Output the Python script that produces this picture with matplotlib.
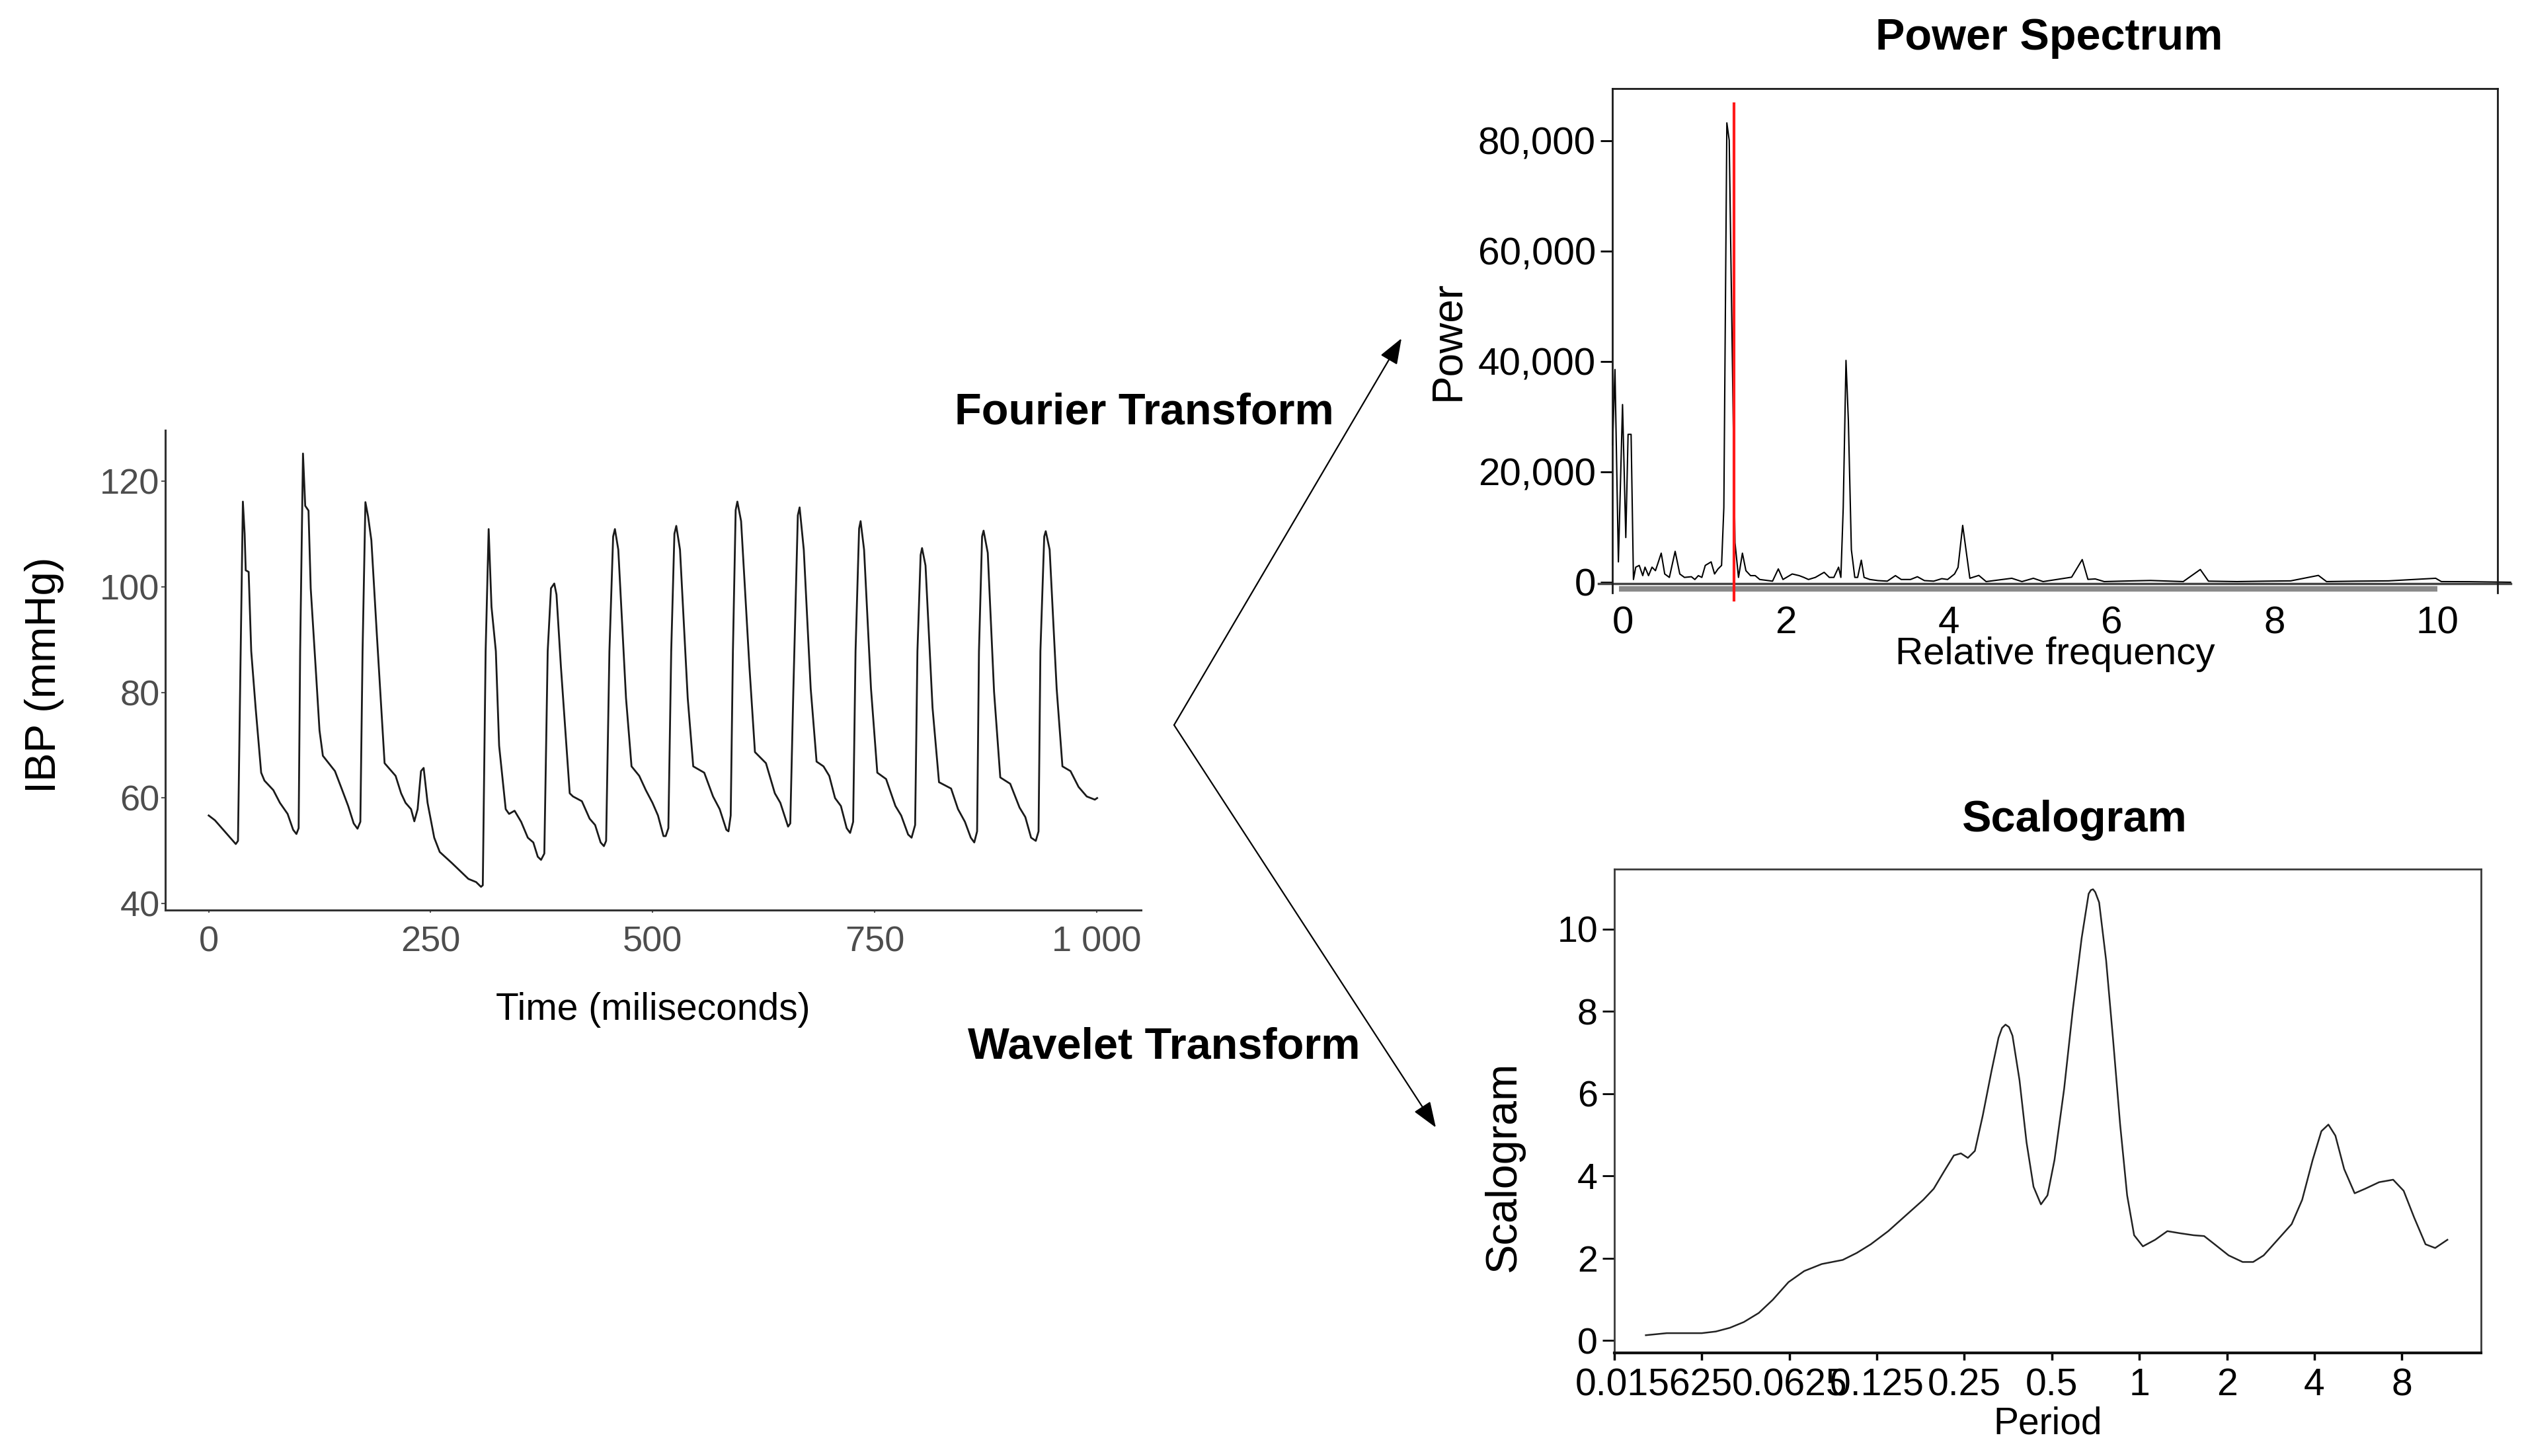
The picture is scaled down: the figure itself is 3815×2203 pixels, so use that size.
import matplotlib
matplotlib.use('Agg')
import matplotlib.pyplot as plt
from matplotlib.patches import FancyArrowPatch
from matplotlib.transforms import ScaledTranslation
from matplotlib.ticker import NullLocator

plt.rcParams['font.family'] = ['Liberation Sans', 'DejaVu Sans']

# ---------------- data ----------------
time_ms = [0, 7, 30.5, 33, 35.5, 38.5, 40.5, 41.7, 45.0, 47.9, 52.9, 59.1, 62.8, 72.8, 80.2, 88.9, 95.1, 98.8,
           101.3, 103.0, 106.2, 108.7, 112.4, 114.9, 121.1, 124.8, 128.6, 142.2, 149.7, 157.1, 163.3, 167.6,
           170.8, 173.3, 176.5, 179.5, 183.2, 189.4, 198.1, 210.5, 216.7, 221.7, 227.9, 231.6, 235.3, 239.1,
           242.1, 246.5, 254.0, 260.2, 273.9, 292.5, 301.2, 306.7, 308.7, 311.9, 315.3, 318.5, 323.4, 327.1,
           334.5, 338.3, 344.5, 351.9, 359.4, 365.6, 370.6, 374.3, 378.0, 381.8, 385.5, 389.2, 391.7, 396.7,
           406.6, 410.3, 420.3, 429.0, 435.2, 441.4, 445.1, 447.6, 451.3, 455.5, 457.5, 461.3, 470.0, 476.2,
           484.9, 492.3, 499.8, 506.0, 512.2, 514.7, 517.7, 520.9, 524.5, 526.6, 530.8, 539.5, 545.7, 558.1,
           568.0, 575.5, 583.0, 585.4, 587.9, 590.4, 593.5, 595.4, 599.6, 609.0, 615.2, 627.6, 637.6, 643.8,
           652.5, 655.0, 658.4, 663.5, 665.5, 670.2, 678.0, 684.6, 692.4, 698.9, 705.4, 712.0, 718.5, 722.4,
           725.8, 728.5, 732.5, 734.2, 738.1, 745.9, 753.0, 762.9, 773.4, 779.9, 787.7, 791.6, 795.6, 798.2,
           801.8, 803.4, 807.3, 815.2, 822.5, 836.1, 843.9, 851.7, 858.3, 862.2, 865.4, 867.5, 871.0, 872.7,
           877.4, 884.5, 891.5, 902.7, 913.2, 919.7, 926.2, 931.5, 934.6, 936.7, 941.0, 942.7, 947.1, 955.0,
           961.5, 970.6, 979.7, 988.9, 998.0, 1000.6]
ibp = [56.7, 55.8, 51.3, 51.9, 81.8, 116.1, 110.0, 103.1, 102.8, 87.8, 77.0, 64.8, 63.3, 61.5, 59.1, 57.0, 54.0, 53.2,
       54.3, 87.8, 125.2, 115.3, 114.4, 99.7, 83.0, 72.8, 68.0, 65.1, 61.8, 58.5, 55.2, 54.2,
       55.5, 87.8, 116.0, 113.3, 108.8, 90.9, 66.6, 64.2, 60.9, 59.1, 57.9, 55.6, 57.9, 65.1,
       65.7, 59.1, 52.5, 49.8, 47.7, 44.7, 44.1, 43.2, 43.5, 87.8, 110.9, 96.2, 87.8, 69.9,
       57.9, 57.0, 57.6, 55.5, 52.5, 51.6, 48.9, 48.3, 49.5, 87.8, 99.7, 100.6, 98.5, 84.8,
       60.9, 60.3, 59.4, 56.1, 54.9, 51.6, 50.9, 51.9, 87.8, 109.5, 110.9, 107.0, 78.9, 66.0,
       64.2, 61.5, 59.1, 56.7, 52.8, 52.8, 54.3, 87.8, 110.0, 111.5, 107.0, 78.9, 66.0, 64.8,
       60.3, 57.9, 54.0, 53.7, 56.7, 87.8, 114.5, 116.1, 112.4, 84.8, 68.7, 66.6, 60.9, 59.1,
       54.6, 55.2, 80.0, 113.5, 115.0, 107.0, 80.7, 66.9, 66.0, 64.2, 60.0, 58.5, 54.3, 53.4,
       55.5, 87.8, 111.0, 112.4, 107.0, 80.7, 64.8, 63.6, 58.5, 56.7, 53.1, 52.5, 54.9, 87.8,
       106.0, 107.3, 104.0, 77.1, 63.0, 61.8, 57.9, 55.5, 52.5, 51.6, 53.7, 87.8, 109.5, 110.6,
       106.4, 80.1, 63.9, 62.7, 58.2, 56.4, 52.5, 51.9, 53.7, 87.8, 109.5, 110.5, 107.0, 80.7,
       66.0, 65.1, 62.1, 60.3, 59.7, 60.0]
ibp_xticks = [0, 250, 500, 750, 1000]
ibp_xticklabels = ['0', '250', '500', '750', '1 000']
ibp_yticks = [40, 60, 80, 100, 120]

freq = [-0.127, -0.098, -0.056, -0.005, 0.035, 0.063, 0.100, 0.129, 0.157, 0.200, 0.243, 0.271, 0.314, 0.357,
        0.399, 0.428, 0.470, 0.513, 0.570, 0.641, 0.698, 0.755, 0.840, 0.883, 0.926, 0.969, 1.011, 1.083,
        1.125, 1.168, 1.211, 1.239, 1.276, 1.305, 1.339, 1.376, 1.419, 1.467, 1.510, 1.567, 1.624, 1.680,
        1.837, 1.908, 1.965, 2.079, 2.164, 2.221, 2.278, 2.363, 2.471, 2.534, 2.590, 2.648, 2.676, 2.705,
        2.739, 2.768, 2.805, 2.847, 2.882, 2.927, 2.961, 3.032, 3.132, 3.246, 3.346, 3.417, 3.531, 3.616,
        3.702, 3.816, 3.916, 3.987, 4.072, 4.115, 4.172, 4.260, 4.370, 4.460, 4.775, 4.900, 5.040, 5.160,
        5.510, 5.640, 5.710, 5.800, 5.910, 6.220, 6.480, 6.880, 7.090, 7.190, 7.540, 7.900, 8.200, 8.540,
        8.640, 9.000, 9.400, 9.980, 10.050, 10.400, 10.900]
power = [24900, 38550, 3690, 32200, 8100, 26800, 26800, 500, 2730, 3050, 1200, 2730, 1200, 2730,
         2100, 3370, 5270, 1500, 880, 5600, 1500, 880, 1000, 500, 1200, 880, 3050, 3690,
         1500, 2420, 3050, 13510, 83240, 80080, 45200, 7170, 880, 5270, 2100, 1200, 1200, 500,
         200, 2420, 500, 1500, 1200, 880, 500, 880, 1800, 880, 880, 2730, 880, 13510,
         40200, 29350, 5910, 880, 880, 4000, 880, 500, 300, 200, 1200, 500, 500, 1000,
         300, 200, 650, 500, 1500, 2700, 10300, 720, 1240, 120, 720, 120, 720, 120,
         920, 4110, 520, 600, 120, 240, 320, 120, 2310, 200, 120, 200, 250, 1240,
         120, 200, 250, 720, 120, 100, 0]
peak_freq = 1.36
power_yticks = [0, 20000, 40000, 60000, 80000]
power_yticklabels = ['0', '20,000', '40,000', '60,000', '80,000']
power_xticks = [0, 2, 4, 6, 8, 10]
power_xticklabels = ['0', '2', '4', '6', '8', '10']

period = [0.02005, 0.02368, 0.03125, 0.03492, 0.03901, 0.04358, 0.04904, 0.05479, 0.06207, 0.07032,
          0.08078, 0.09539, 0.1066, 0.1191, 0.1368, 0.1571, 0.1805, 0.1961, 0.2132, 0.2300, 0.2432,
          0.2570, 0.2717, 0.2892, 0.3099, 0.3276, 0.3370, 0.3463, 0.3560, 0.3660, 0.3869, 0.4090,
          0.4323, 0.4585, 0.4829, 0.5105, 0.5510, 0.5905, 0.6329, 0.6690, 0.6810, 0.6926, 0.7050,
          0.7270, 0.7684, 0.8123, 0.8586, 0.9075, 0.9593, 1.0281, 1.1329, 1.2483, 1.3755, 1.5369,
          1.6702, 1.8150, 2.0279, 2.2658, 2.4623, 2.6759, 2.9897, 3.3404, 3.6301, 3.9449, 4.2281,
          4.4691, 4.7240, 5.0630, 5.5022, 5.9794, 6.6807, 7.4643, 8.1117, 8.8152, 9.6465, 10.411,
          11.472]
scalogram = [0.13, 0.18, 0.18, 0.22, 0.31, 0.45, 0.67, 0.99, 1.42, 1.69,
             1.86, 1.96, 2.13, 2.34, 2.66, 3.04, 3.42, 3.69, 4.12, 4.50, 4.55,
             4.44, 4.61, 5.47, 6.55, 7.36, 7.60, 7.68, 7.62, 7.41, 6.33, 4.82,
             3.74, 3.31, 3.53, 4.39, 6.12, 8.06, 9.78, 10.86, 10.95, 10.97, 10.90,
             10.65, 9.24, 7.30, 5.25, 3.53, 2.56, 2.29, 2.45, 2.66, 2.61, 2.56,
             2.54, 2.34, 2.07, 1.91, 1.91, 2.07, 2.45, 2.83, 3.42, 4.39, 5.09,
             5.25, 4.98, 4.17, 3.58, 3.69, 3.85, 3.91, 3.64, 2.99, 2.34, 2.25,
             2.45]
scal_xticks = [0.015625, 0.03125, 0.0625, 0.125, 0.25, 0.5, 1, 2, 4, 8]
scal_xticklabels = ['0.015625', '', '0.0625', '0.125', '0.25', '0.5', '1', '2', '4', '8']
scal_yticks = [0, 2, 4, 6, 8, 10]

# ---------------- figure ----------------
W, H, DPI = 3815, 2203, 100
fig = plt.figure(figsize=(W / DPI, H / DPI), dpi=DPI)


def rect(l, t, r, b):
    return [l / W, 1 - b / H, (r - l) / W, (b - t) / H]


def fpt(x, y):
    return (x / W, 1 - y / H)


# ---- left: IBP waveform ----
ax1 = fig.add_axes(rect(250, 651, 1726, 1377))
ax1.plot(time_ms, ibp, color='#1a1a1a', lw=2.0)
ax1.set_xlim(-48.9, 1050)
ax1.set_ylim(38.8, 129.6)
for s in ['top', 'right']:
    ax1.spines[s].set_visible(False)
for s in ['left', 'bottom']:
    ax1.spines[s].set_color('#333333')
    ax1.spines[s].set_linewidth(2.2)
ax1.set_xticks(ibp_xticks)
ax1.set_xticklabels(ibp_xticklabels)
ax1.set_yticks(ibp_yticks)
ax1.tick_params(axis='both', labelsize=39, labelcolor='#4d4d4d', color='#555555', width=1.5)
ax1.tick_params(axis='y', length=4, pad=2)
ax1.tick_params(axis='x', length=3, pad=14)
ax1.set_xlabel('Time (miliseconds)', fontsize=41)
ax1.xaxis.label.set_va('center')
ax1.xaxis.set_label_coords(0.5, -0.208)
ax1.set_ylabel('IBP (mmHg)', fontsize=47)
ax1.yaxis.label.set_va('center')
ax1.yaxis.set_label_coords(-0.124, 0.49)

# ---- top right: power spectrum ----
ax2 = fig.add_axes(rect(2439, 134, 3778, 897))
ax2.plot(freq, power, color='black', lw=1.5, clip_on=False)
ax2.set_xlim(-0.13, 10.74)
ax2.set_ylim(-1920, 89460)
ax2.spines['bottom'].set_visible(False)
for s in ['top', 'left', 'right']:
    ax2.spines[s].set_color('#1a1a1a')
    ax2.spines[s].set_linewidth(2.0)
ax2.plot([-0.3, 10.9], [-250, -250], color='#444444', lw=2.5, clip_on=False)
ax2.plot([-0.05, 10.0], [-1150, -1150], color='#8a8a8a', lw=6, solid_capstyle='butt', clip_on=False)
ax2.plot([peak_freq, peak_freq], [-3230, 86730], color='#ff1a1a', lw=3, clip_on=False)
ax2.set_yticks(power_yticks)
ax2.set_yticklabels(power_yticklabels)
ax2.set_xticks(power_xticks)
ax2.set_xticklabels(power_xticklabels)
ax2.tick_params(axis='y', labelsize=42, length=13, width=2, pad=5)
ax2.tick_params(axis='x', labelsize=42, length=0, pad=14)
ax2.set_xlabel('Relative frequency', fontsize=42)
ax2.xaxis.label.set_va('center')
ax2.xaxis.set_label_coords(0.5, -0.122)
ax2.set_ylabel('Power', fontsize=46)
ax2.yaxis.label.set_va('center')
ax2.yaxis.set_label_coords(-0.186, 0.5)
fig.text(*fpt(3100, 58), 'Power Spectrum', fontsize=48, fontweight='bold', ha='center', va='center')

# ---- bottom right: scalogram ----
ax3 = fig.add_axes(rect(2442, 1315, 3753, 2047))
ax3.set_xscale('log', base=2)
ax3.plot(period, scalogram, color='#222222', lw=1.8)
ax3.set_xlim(0.015625, 14.97)
ax3.set_ylim(-0.30, 11.46)
for s in ['top', 'left', 'right', 'bottom']:
    ax3.spines[s].set_color('#3a3a3a')
    ax3.spines[s].set_linewidth(2.0)
ax3.spines['bottom'].set_color('#111111')
ax3.spines['bottom'].set_linewidth(3.0)
ax3.set_xticks(scal_xticks)
ax3.set_xticklabels(scal_xticklabels)
ax3.xaxis.set_minor_locator(NullLocator())
ax3.set_yticks(scal_yticks)
ax3.tick_params(axis='y', labelsize=40, length=13, width=2, pad=5)
ax3.tick_params(axis='x', labelsize=41, length=8, width=2.5, pad=8)
ticks = ax3.xaxis.get_major_ticks()
lab0 = ticks[0].label1
lab0.set_transform(lab0.get_transform() + ScaledTranslation(0.6, 0, fig.dpi_scale_trans))
ax3.set_xlabel('Period', fontsize=41)
ax3.xaxis.label.set_va('center')
ax3.xaxis.set_label_coords(0.5, -0.147)
ax3.set_ylabel('Scalogram', fontsize=48)
ax3.yaxis.label.set_va('center')
ax3.yaxis.set_label_coords(-0.127, 0.384)
fig.text(*fpt(3137, 1241), 'Scalogram', fontsize=48, fontweight='bold', ha='center', va='center')

# ---- arrows and transform labels ----
vertex = fpt(1776, 1097)
for tip in [fpt(2120, 512), fpt(2172, 1706)]:
    fig.add_artist(FancyArrowPatch(vertex, tip, transform=fig.transFigure,
                                   arrowstyle='-|>,head_length=24,head_width=9',
                                   mutation_scale=1, lw=1.6, color='black',
                                   shrinkA=0, shrinkB=0))
fig.text(*fpt(1731, 624), 'Fourier Transform', fontsize=48, fontweight='bold', ha='center', va='center')
fig.text(*fpt(1761, 1584), 'Wavelet Transform', fontsize=48, fontweight='bold', ha='center', va='center')

fig.savefig('out.png', dpi=DPI)
